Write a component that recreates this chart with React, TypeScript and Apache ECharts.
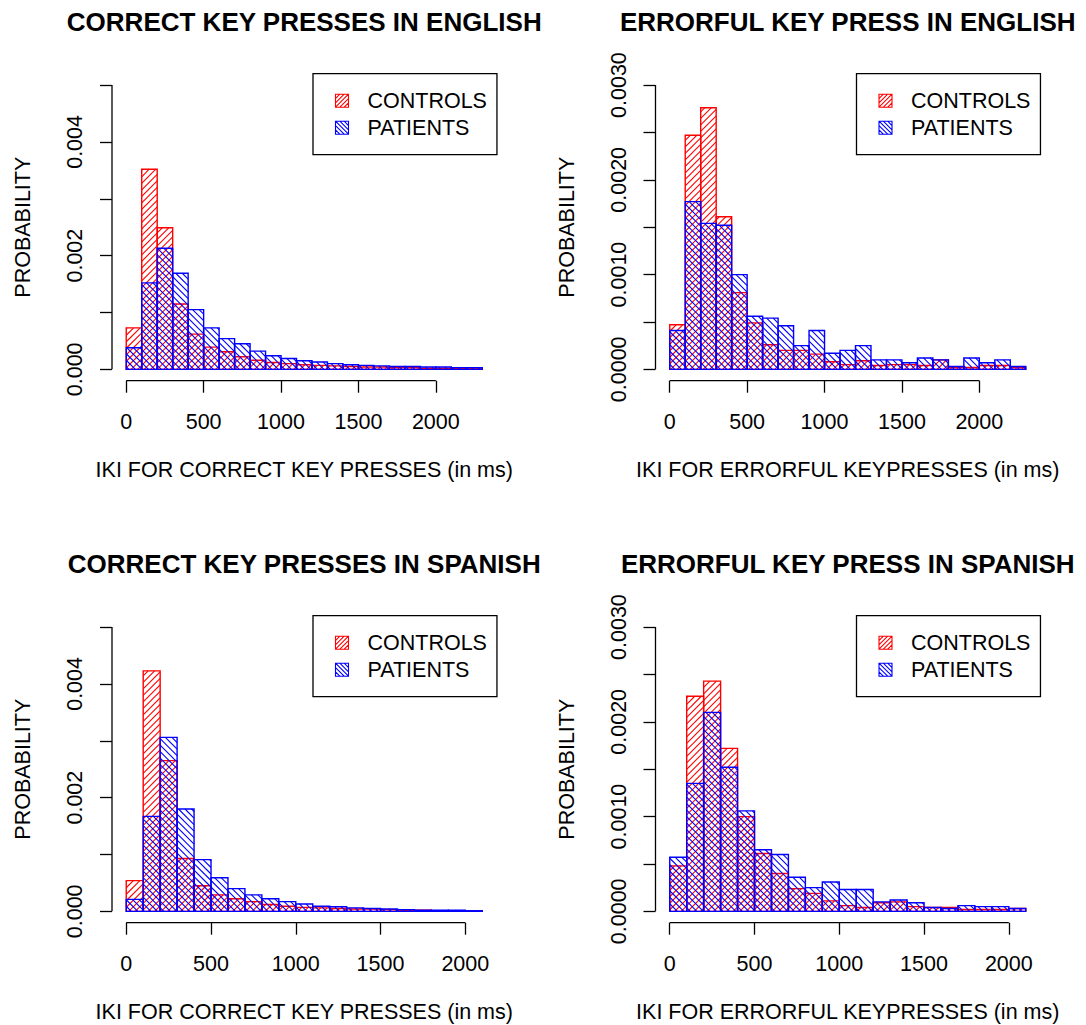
import React, { useEffect, useRef } from "react";
import * as echarts from "echarts";

// ---------- data ----------
const BIN_WIDTH = 100; // ms

const EN_CORRECT_CONTROLS = [0.00073, 0.00352, 0.00249, 0.00115, 0.00062, 0.00039, 0.00031, 0.00022, 0.00016, 0.00012, 0.0001, 0.00008, 0.00007, 0.00006, 0.00005, 0.00004, 0.00004, 0.00003, 0.00003, 0.00002, 0.00002, 0.00002, 0.00001];
const EN_CORRECT_PATIENTS = [0.00038, 0.00152, 0.00213, 0.00169, 0.00105, 0.00073, 0.00054, 0.00045, 0.00032, 0.00024, 0.00019, 0.00015, 0.00013, 0.0001, 0.00008, 0.00007, 0.00006, 0.00005, 0.00005, 0.00004, 0.00004, 0.00003, 0.00003];

const EN_ERROR_CONTROLS = [0.00047, 0.00247, 0.00276, 0.00161, 0.00081, 0.00049, 0.00026, 0.0002, 0.0002, 0.00016, 0.00008, 0.00005, 0.00009, 0.00004, 0.00005, 0.00005, 0.00004, 0.0001, 0.00002, 0.00002, 0.00004, 0.00004, 0.00002];
const EN_ERROR_PATIENTS = [0.00041, 0.00177, 0.00154, 0.00152, 0.001, 0.00056, 0.00054, 0.00046, 0.00025, 0.00041, 0.00017, 0.0002, 0.00025, 0.0001, 0.0001, 0.00007, 0.00012, 0.0001, 0.00003, 0.00012, 0.00007, 0.0001, 0.00003];

const ES_CORRECT_CONTROLS = [0.00054, 0.00423, 0.00265, 0.00093, 0.00045, 0.00029, 0.00022, 0.00017, 0.00012, 0.00009, 0.00007, 0.00006, 0.00005, 0.00004, 0.00004, 0.00003, 0.00002, 0.00002, 0.00001, 0.00001, 0.00001];
const ES_CORRECT_PATIENTS = [0.00021, 0.00167, 0.00306, 0.0018, 0.00091, 0.00059, 0.0004, 0.00029, 0.00022, 0.00017, 0.00013, 0.00009, 0.00008, 0.00006, 0.00005, 0.00004, 0.00003, 0.00002, 0.00002, 0.00002, 0.00001];

const ES_ERROR_CONTROLS = [0.00048, 0.00227, 0.00243, 0.00172, 0.001, 0.00061, 0.0004, 0.00024, 0.00019, 0.00011, 0.00006, 0.00004, 0.00009, 0.0001, 0.00005, 0.00004, 0.00004, 0.00002, 0.00002, 0.00002, 0.00003];
const ES_ERROR_PATIENTS = [0.00057, 0.00135, 0.0021, 0.00152, 0.00106, 0.00065, 0.0006, 0.00036, 0.00025, 0.00031, 0.00023, 0.00023, 0.0001, 0.00012, 0.00009, 0.00004, 0.00003, 0.00006, 0.00005, 0.00005, 0.00003];

const SERIES_NAMES = ["CONTROLS", "PATIENTS"];

const TITLES = [
  "CORRECT KEY PRESSES IN ENGLISH",
  "ERRORFUL KEY PRESS IN ENGLISH",
  "CORRECT KEY PRESSES IN SPANISH",
  "ERRORFUL KEY PRESS IN SPANISH",
];
const X_NAMES = [
  "IKI FOR CORRECT KEY PRESSES (in ms)",
  "IKI FOR ERRORFUL KEYPRESSES (in ms)",
  "IKI FOR CORRECT KEY PRESSES (in ms)",
  "IKI FOR ERRORFUL KEYPRESSES (in ms)",
];
const Y_NAME = "PROBABILITY";

const X_TICKS = [0, 500, 1000, 1500, 2000];
const Y_TICKS_CORRECT = [0, 0.001, 0.002, 0.003, 0.004, 0.005];
const Y_LABELS_CORRECT = [0, 0.002, 0.004];
const Y_TICKS_ERROR = [0, 0.0005, 0.001, 0.0015, 0.002, 0.0025, 0.003];
const Y_LABELS_ERROR = [0, 0.001, 0.002, 0.003];

// ---------- styling / layout ----------
const FONT = "'Liberation Sans', Arial, Helvetica, sans-serif";
const RED = "#ff0000";
const BLUE = "#0000ff";
const HATCH = 6.5;
const FS = 21.5;

const GRID_LEFT = 112;
const GRID_TOP = 73.7;
const GRID_W = 384.5;
const GRID_H = 307;
const COL_STEP = 543.5;
const ROW_STEP = 542;

const PANELS = [
  { controls: EN_CORRECT_CONTROLS, patients: EN_CORRECT_PATIENTS, yTicks: Y_TICKS_CORRECT, yLabels: Y_LABELS_CORRECT, digits: 3, col: 0, row: 0 },
  { controls: EN_ERROR_CONTROLS, patients: EN_ERROR_PATIENTS, yTicks: Y_TICKS_ERROR, yLabels: Y_LABELS_ERROR, digits: 4, col: 1, row: 0 },
  { controls: ES_CORRECT_CONTROLS, patients: ES_CORRECT_PATIENTS, yTicks: Y_TICKS_CORRECT, yLabels: Y_LABELS_CORRECT, digits: 3, col: 0, row: 1 },
  { controls: ES_ERROR_CONTROLS, patients: ES_ERROR_PATIENTS, yTicks: Y_TICKS_ERROR, yLabels: Y_LABELS_ERROR, digits: 4, col: 1, row: 1 },
];

function toBins(values: number[]) {
  return values.map((v, i) => [i * BIN_WIDTH, (i + 1) * BIN_WIDTH, v]);
}

function makeHistRenderer(color: string, dir: number) {
  return (_params: any, api: any) => {
    const x0 = api.value(0);
    const x1 = api.value(1);
    const v = api.value(2);
    const a = api.coord([x0, 0]);
    const b = api.coord([x1, v]);
    const left = a[0];
    const right = b[0];
    const bottom = a[1];
    const top = b[1];
    const children: any[] = [];
    const s = HATCH;
    if (dir === 1) {
      const cStart = Math.ceil((left + top) / s) * s;
      for (let c = cStart; c <= right + bottom; c += s) {
        const xa = Math.max(left, c - bottom);
        const xb = Math.min(right, c - top);
        if (xb - xa > 0.05) {
          children.push({ type: "line", shape: { x1: xa, y1: c - xa, x2: xb, y2: c - xb }, style: { stroke: color, lineWidth: 1.1 } });
        }
      }
    } else {
      const cStart = Math.ceil((top - right) / s) * s;
      for (let c = cStart; c <= bottom - left; c += s) {
        const xa = Math.max(left, top - c);
        const xb = Math.min(right, bottom - c);
        if (xb - xa > 0.05) {
          children.push({ type: "line", shape: { x1: xa, y1: xa + c, x2: xb, y2: xb + c }, style: { stroke: color, lineWidth: 1.1 } });
        }
      }
    }
    children.push({
      type: "rect",
      shape: { x: left, y: top, width: right - left, height: bottom - top },
      style: { fill: "none", stroke: color, lineWidth: 1.4 },
    });
    return { type: "group", children };
  };
}

function makeAxisRenderer(xMin: number, yMin: number, xTicks: number[], yTicks: number[]) {
  return (_params: any, api: any) => {
    const xa = api.coord([xTicks[0], yMin]);
    const xb = api.coord([xTicks[xTicks.length - 1], yMin]);
    const ya = api.coord([xMin, yTicks[0]]);
    const yb = api.coord([xMin, yTicks[yTicks.length - 1]]);
    const st = { stroke: "#000", lineWidth: 1.3 };
    return {
      type: "group",
      children: [
        { type: "line", shape: { x1: xa[0], y1: xa[1], x2: xb[0], y2: xb[1] }, style: st },
        { type: "line", shape: { x1: ya[0], y1: ya[1], x2: yb[0], y2: yb[1] }, style: st },
      ],
    };
  };
}

const hatchIcon = (dir: number) =>
  dir === 1
    ? "path://M0 0H12V12H0Z M0 4L4 0 M0 8L8 0 M0 12L12 0 M4 12L12 4 M8 12L12 8"
    : "path://M0 0H12V12H0Z M0 8L4 12 M0 4L8 12 M0 0L12 12 M4 0L12 8 M8 0L12 4";

function buildOption() {
  const grid: any[] = [];
  const xAxis: any[] = [];
  const yAxis: any[] = [];
  const series: any[] = [];
  const title: any[] = [];
  const legend: any[] = [];

  PANELS.forEach((p, i) => {
    const nBins = Math.max(p.controls.length, p.patients.length);
    const xHi = nBins * BIN_WIDTH;
    const xMin = -0.04 * xHi;
    const xMax = xHi * 1.04;
    const yHi = p.yTicks[p.yTicks.length - 1];
    const yMin = -0.04 * yHi;
    const yMax = yHi * 1.04;
    const left = GRID_LEFT + p.col * COL_STEP;
    const top = GRID_TOP + p.row * ROW_STEP;

    grid.push({ left, top, width: GRID_W, height: GRID_H, containLabel: false });

    xAxis.push({
      type: "value",
      gridIndex: i,
      min: xMin,
      max: xMax,
      axisLine: { show: false, onZero: false },
      splitLine: { show: false },
      axisTick: { show: true, customValues: X_TICKS, length: 12, lineStyle: { color: "#000", width: 1.3 } },
      axisLabel: {
        customValues: X_TICKS,
        margin: 30,
        fontSize: FS,
        color: "#000",
        fontFamily: FONT,
        formatter: (v: number) => String(v),
      },
      name: X_NAMES[i],
      nameLocation: "middle",
      nameGap: 78,
      nameTextStyle: { fontSize: FS, color: "#000", fontFamily: FONT },
    });

    yAxis.push({
      type: "value",
      gridIndex: i,
      min: yMin,
      max: yMax,
      axisLine: { show: false, onZero: false },
      splitLine: { show: false },
      axisTick: { show: true, customValues: p.yTicks, length: 12, lineStyle: { color: "#000", width: 1.3 } },
      axisLabel: {
        customValues: p.yLabels,
        rotate: 90,
        margin: 26,
        fontSize: FS,
        color: "#000",
        fontFamily: FONT,
        formatter: (v: number) => v.toFixed(p.digits),
      },
      name: Y_NAME,
      nameLocation: "middle",
      nameGap: 78,
      nameTextStyle: { fontSize: FS, color: "#000", fontFamily: FONT },
    });

    series.push({
      type: "custom",
      name: "axes" + i,
      xAxisIndex: i,
      yAxisIndex: i,
      silent: true,
      renderItem: makeAxisRenderer(xMin, yMin, X_TICKS, p.yTicks),
      data: [[0, 0]],
      encode: { x: 0, y: 1 },
    });
    series.push({
      type: "custom",
      name: SERIES_NAMES[0],
      xAxisIndex: i,
      yAxisIndex: i,
      silent: true,
      itemStyle: { color: RED },
      renderItem: makeHistRenderer(RED, 1),
      data: toBins(p.controls),
      encode: { x: [0, 1], y: 2 },
    });
    series.push({
      type: "custom",
      name: SERIES_NAMES[1],
      xAxisIndex: i,
      yAxisIndex: i,
      silent: true,
      itemStyle: { color: BLUE },
      renderItem: makeHistRenderer(BLUE, -1),
      data: toBins(p.patients),
      encode: { x: [0, 1], y: 2 },
    });

    title.push({
      text: TITLES[i],
      left: left + GRID_W / 2,
      top: 9 + p.row * ROW_STEP,
      textAlign: "center",
      padding: 0,
      textStyle: { fontSize: 26, fontWeight: "bold", color: "#000", fontFamily: FONT },
    });

    legend.push({
      orient: "vertical",
      left: 313 + p.col * COL_STEP,
      top: top,
      padding: [16, 10, 16, 20],
      itemWidth: 13,
      itemHeight: 13,
      itemGap: 5,
      borderColor: "#000",
      borderWidth: 1.3,
      borderRadius: 0,
      selectedMode: false,
      textStyle: { fontSize: FS, color: "#000", fontFamily: FONT, lineHeight: 21, padding: [0, 0, 0, 14] },
      data: [
        { name: SERIES_NAMES[0], icon: hatchIcon(1), itemStyle: { color: "none", borderColor: RED, borderWidth: 1.1 } },
        { name: SERIES_NAMES[1], icon: hatchIcon(-1), itemStyle: { color: "none", borderColor: BLUE, borderWidth: 1.1 } },
      ],
    });
  });

  return {
    animation: false,
    backgroundColor: "#fff",
    textStyle: { fontFamily: FONT },
    title,
    legend,
    grid,
    xAxis,
    yAxis,
    series,
  };
}

export default function App() {
  const ref = useRef<HTMLDivElement>(null);
  useEffect(() => {
    if (!ref.current) return;
    const chart = echarts.init(ref.current, undefined, { renderer: "svg" });
    chart.setOption(buildOption() as any);
    return () => chart.dispose();
  }, []);
  return (
    <div
      ref={ref}
      style={{ position: "absolute", left: 0, top: 0, width: 1086, height: 1025, background: "#fff" }}
    />
  );
}
